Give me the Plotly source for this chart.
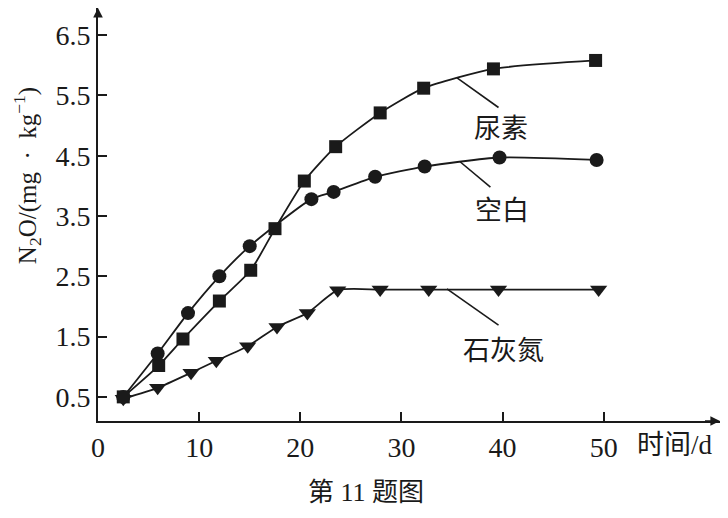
import plotly.graph_objects as go

# data
urea_x = [2.5, 6.0, 8.4, 12.0, 15.1, 17.5, 20.4, 23.5, 27.9, 32.2, 39.1, 49.2]
urea_y = [0.50, 1.02, 1.46, 2.09, 2.60, 3.29, 4.08, 4.65, 5.21, 5.62, 5.94, 6.08]

blank_x = [2.5, 5.9, 8.9, 12.0, 15.0, 21.1, 23.3, 27.4, 32.3, 39.7, 49.3]
blank_y = [0.50, 1.22, 1.89, 2.50, 3.00, 3.78, 3.90, 4.15, 4.32, 4.47, 4.43]

lime_x = [2.5, 5.9, 9.2, 11.7, 14.8, 17.7, 20.7, 23.7, 27.9, 32.7, 39.6, 49.5]
lime_y = [0.47, 0.65, 0.90, 1.10, 1.34, 1.66, 1.89, 2.27, 2.28, 2.28, 2.28, 2.28]

x_ticks = [0, 10, 20, 30, 40, 50]
y_ticks = [0.5, 1.5, 2.5, 3.5, 4.5, 5.5, 6.5]

series_names = ['尿素', '空白', '石灰氮']
# (line start on curve, line end near text, text position)
label_spots = [
    ((35.5, 5.79), (39.6, 5.30), (39.8, 4.98)),
    ((35.8, 4.40), (38.8, 3.98), (39.95, 3.63)),
    ((34.5, 2.29), (39.6, 1.69), (40.05, 1.31)),
]

FONT = 'Liberation Serif, Times New Roman, Noto Sans CJK SC, serif'
BLACK = '#1a1a1a'
X_MAX = 61.5
Y_MIN, Y_MAX = 0.1, 6.95

fig = go.Figure()
for xs, ys, sym, sz in [(urea_x, urea_y, 'square', 13),
                        (blank_x, blank_y, 'circle', 14),
                        (lime_x, lime_y, 'triangle-down', 15)]:
    fig.add_trace(go.Scatter(
        x=xs, y=ys, mode='lines+markers',
        line=dict(color=BLACK, width=1.8, shape='spline', smoothing=0.6),
        marker=dict(symbol=sym, size=sz, color=BLACK),
        showlegend=False, cliponaxis=False,
    ))

for name, (p0, p1, pt) in zip(series_names, label_spots):
    fig.add_shape(type='line', x0=p0[0], y0=p0[1], x1=p1[0], y1=p1[1],
                  line=dict(color=BLACK, width=1.6))
    fig.add_annotation(x=pt[0], y=pt[1], text=name, showarrow=False,
                       font=dict(family='Noto Sans CJK SC', size=27, color=BLACK))

# axis arrows
fig.add_annotation(x=X_MAX, y=Y_MIN, ax=-18, ay=0, showarrow=True,
                   arrowhead=2, arrowsize=1.2, arrowwidth=1.6, arrowcolor=BLACK, text=' ')
fig.add_annotation(x=0, y=Y_MAX, ax=0, ay=18, showarrow=True,
                   arrowhead=2, arrowsize=1.2, arrowwidth=1.6, arrowcolor=BLACK, text=' ')

fig.add_annotation(xref='paper', yref='paper', x=0.864, y=-0.058,
                   xanchor='left', yanchor='middle',
                   text='时间/d', showarrow=False,
                   font=dict(family=FONT, size=27, color=BLACK))
fig.add_annotation(xref='paper', yref='paper', x=-0.114, y=0.593,
                   xanchor='center', yanchor='middle',
                   text='N<sub>2</sub>O/(mg\u2002·\u2002kg<sup>−1</sup>)', textangle=-90,
                   showarrow=False, font=dict(family=FONT, size=25, color=BLACK))
fig.add_annotation(xref='paper', yref='paper', x=0.431, y=-0.172,
                   xanchor='center', yanchor='middle',
                   text='第 11 题图', showarrow=False,
                   font=dict(family=FONT, size=26, color=BLACK))

fig.update_xaxes(range=[0, X_MAX], tickvals=x_ticks, ticks='inside', ticklen=9,
                 tickwidth=1.5, tickcolor=BLACK, showline=True, linecolor=BLACK,
                 linewidth=1.8, showgrid=False, zeroline=False,
                 tickfont=dict(family=FONT, size=28, color=BLACK))
fig.update_yaxes(range=[Y_MIN, Y_MAX], tickvals=y_ticks, ticktext=[str(v) for v in y_ticks],
                 ticks='inside', ticklen=9, tickwidth=1.5, tickcolor=BLACK,
                 showline=True, linecolor=BLACK, linewidth=1.8, showgrid=False,
                 zeroline=False, tickfont=dict(family=FONT, size=28, color=BLACK))

# the page body adds an 8px margin all round, so the figure is kept inside the window
fig.update_layout(
    width=712, height=502,
    margin=dict(l=90, r=0, t=0, b=89),
    paper_bgcolor='white', plot_bgcolor='white',
)

fig.write_html("out.html")
